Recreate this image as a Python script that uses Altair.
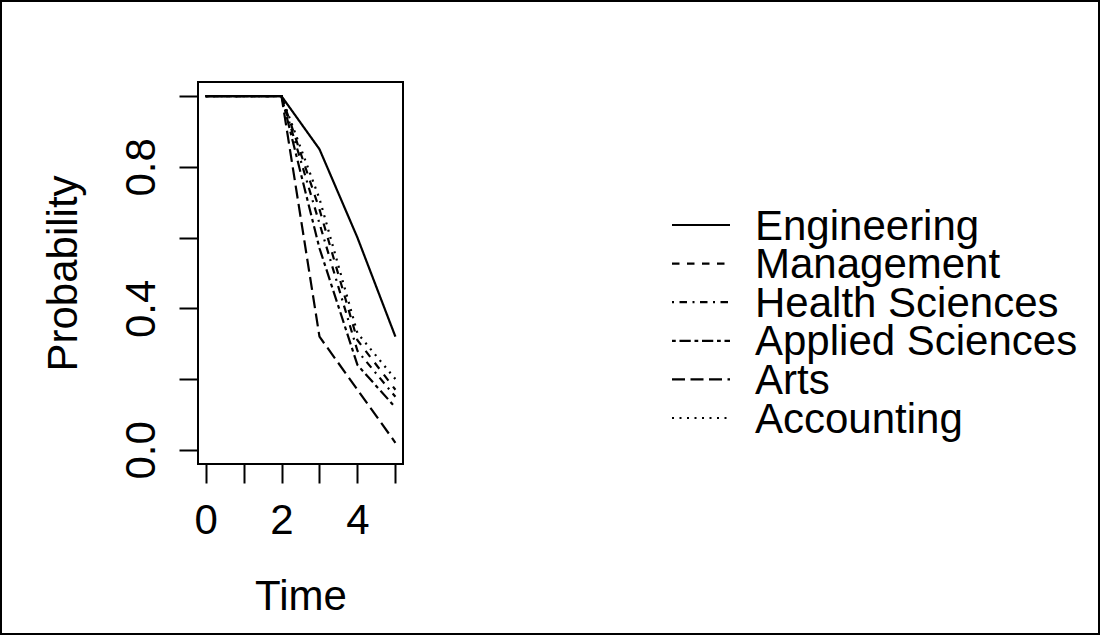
import altair as alt
import pandas as pd

# Survival-style probabilities by faculty over time
times = [0, 1, 2, 3, 4, 5]
series = ["Engineering", "Management", "Health Sciences",
          "Applied Sciences", "Arts", "Accounting"]
engineering = [1.0, 1.0, 1.0, 0.85, 0.60, 0.32]
management = [1.0, 1.0, 1.0, 0.68, 0.31, 0.17]
health_sciences = [1.0, 1.0, 1.0, 0.64, 0.28, 0.15]
applied_sciences = [1.0, 1.0, 1.0, 0.57, 0.24, 0.12]
arts = [1.0, 1.0, 1.0, 0.32, 0.17, 0.02]
accounting = [1.0, 1.0, 1.0, 0.71, 0.33, 0.20]

# R-like line types: solid, dashed, dotdash, twodash, longdash, dotted
dashes = [[1, 0], [7.5, 7.5], [2, 5.5, 7.5, 5.5], [3.75, 3.75, 11.25, 3.75],
          [13, 5.5], [2, 5.5]]

values = [engineering, management, health_sciences, applied_sciences, arts, accounting]
rows = []
for name, vals in zip(series, values):
    for t, v in zip(times, vals):
        rows.append({"series": name, "time": t, "prob": v})
df = pd.DataFrame(rows)
legend_df = pd.DataFrame({"series": series, "row": list(range(len(series)))})

FONT = "Liberation Sans"
FS = 42
W, H = 205, 382
LEFT, TOP = 198, 82

dash_scale = alt.Scale(domain=series, range=dashes)

lines = alt.Chart(df).mark_line(color="black", strokeWidth=2.2, strokeCap="butt").encode(
    x=alt.X("time:Q", scale=alt.Scale(domain=[-0.2, 5.2], nice=False, zero=False),
            axis=alt.Axis(values=times, labelExpr="datum.value % 2 == 0 ? datum.label : ''",
                          grid=False, domain=False, tickSize=19, tickWidth=2, tickColor="black",
                          labelFont=FONT, labelFontSize=FS, labelColor="black",
                          labelBaseline="alphabetic", labelPadding=50, labelFlush=False,
                          labelOverlap=False,
                          title="Time", titleFont=FONT, titleFontSize=FS, titleFontWeight="normal",
                          titleColor="black", titleX=W / 2, titleY=145, titleAlign="center",
                          titleBaseline="alphabetic")),
    y=alt.Y("prob:Q", scale=alt.Scale(domain=[-0.04, 1.04], nice=False, zero=False),
            axis=alt.Axis(values=[0, 0.2, 0.4, 0.6, 0.8, 1.0],
                          labelExpr="round(datum.value * 10) % 4 == 0 ? format(datum.value, '.1f') : ''",
                          grid=False, domain=False, tickSize=19, tickWidth=2, tickColor="black",
                          labelFont=FONT, labelFontSize=FS, labelColor="black",
                          labelAngle=270, labelAlign="center", labelBaseline="alphabetic",
                          labelPadding=25, labelFlush=False, labelOverlap=False,
                          title="Probability", titleFont=FONT, titleFontSize=FS,
                          titleFontWeight="normal", titleColor="black", titleAngle=270,
                          titleX=76 - LEFT, titleY=H / 2, titleAlign="center",
                          titleBaseline="alphabetic")),
    strokeDash=alt.StrokeDash("series:N", scale=dash_scale, legend=None),
    detail="series:N",
)

row_scale = alt.Scale(domain=[0, 5], range=[225 - TOP, 418 - TOP])

legend_lines = alt.Chart(legend_df).mark_rule(color="black", strokeWidth=2.2, strokeCap="butt").encode(
    x=alt.value(672 - LEFT),
    x2=alt.value(730 - LEFT),
    y=alt.Y("row:Q", scale=row_scale, axis=None),
    strokeDash=alt.StrokeDash("series:N", scale=dash_scale, legend=None),
)

legend_text = alt.Chart(legend_df).mark_text(
    align="left", baseline="alphabetic", dy=14.5, font=FONT, fontSize=FS, color="black"
).encode(
    x=alt.value(755 - LEFT),
    y=alt.Y("row:Q", scale=row_scale, axis=None),
    text="series:N",
)

frame = alt.Chart(pd.DataFrame({"k": [0]})).mark_rect(
    filled=False, stroke="black", strokeWidth=2, fill=None
).encode(
    x=alt.value(1 - LEFT), x2=alt.value(1099 - LEFT),
    y=alt.value(1 - TOP), y2=alt.value(634 - TOP),
)

chart = alt.layer(lines, legend_lines, legend_text, frame).resolve_scale(
    y="independent"
).properties(
    width=W, height=H,
    padding={"left": LEFT, "top": TOP, "right": 1100 - LEFT - W, "bottom": 635 - TOP - H},
    autosize=alt.AutoSizeParams(type="none"),
    background="white",
).configure_view(stroke="black", strokeWidth=2)

chart.save("out.html", embed_options={"renderer": "svg", "actions": False})
